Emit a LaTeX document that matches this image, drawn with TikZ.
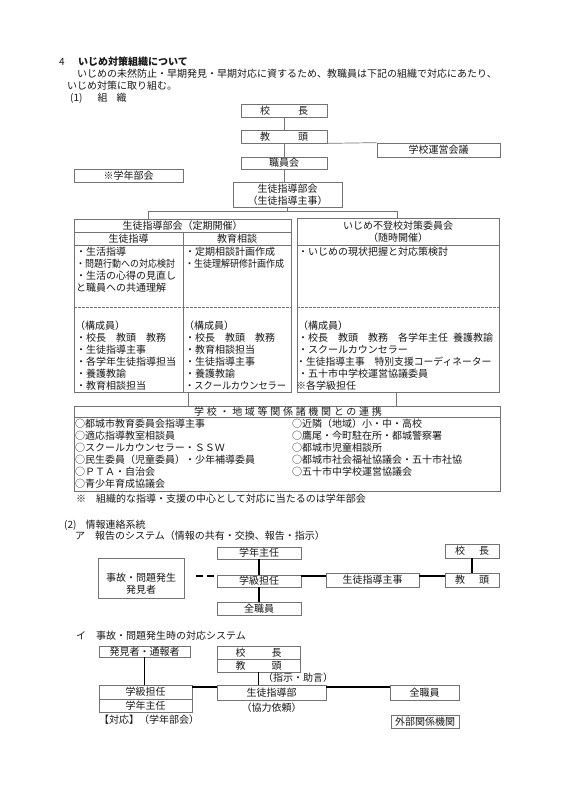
\documentclass[tikz,border=0pt]{standalone}
\usepackage{fontspec}
\setmainfont{Noto Sans CJK JP}
\newcommand\bx[6]{\node[box,minimum width={#4-#2},minimum height={#5-#3}] (#1) at ({(#2+#4)/2},{(#3+#5)/2}) {#6};}
\begin{document}
\begin{tikzpicture}[x=1pt,y=-1pt,font=\fontsize{10}{12}\selectfont,
  txt/.style={anchor=west,inner sep=0pt,text height=8.8pt,text depth=1.2pt,text=black!90},
  ctxt/.style={inner sep=0pt,text height=8.8pt,text depth=1.2pt,text=black!90},
  box/.style={draw=black!55,line width=0.7pt,inner sep=0pt,text height=8.8pt,text depth=1.2pt,text=black!90},
  conn/.style={draw=black!55,line width=0.7pt},
  rule/.style={draw=black!55,line width=0.7pt},
  dashrule/.style={draw=black!55,line width=0.6pt,dash pattern=on 2.5pt off 1.5pt},
  thk/.style={draw=black,line width=1.5pt}]
\fill[white] (0,0) rectangle (566,800);
\useasboundingbox (0,0) rectangle (566,800);

% header
\node[txt] (h4) at (59,62) {4};
\node[txt,font=\fontsize{10}{12}\selectfont\bfseries] (h4t) at (78,62) {いじめ対策組織について};
\node[txt] (hl2) at (77,74) {いじめの未然防止・早期発見・早期対応に資するため、教職員は下記の組織で対応にあたり、};
\node[txt] (hl3) at (67,86) {いじめ対策に取り組む。};
\node[txt] (hs1) at (70,97.5) {(1)\hspace{15pt}組\hspace{9pt}織};

% org chart
\bx{kocho}{241}{104}{327}{117}{校\hspace{28pt}長}
\bx{kyoto}{241}{130}{327}{143}{教\hspace{28pt}頭}
\bx{unei}{377}{143}{500}{157}{学校運営会議}
\bx{shokuin}{241}{157}{327}{169}{職員会}
\bx{gakunenbu}{74}{169}{183}{182}{※学年部会}
\bx{shidobu}{233}{182}{342}{207}{}
\node[ctxt] (sd1) at (287.5,188.5) {生徒指導部会};
\node[ctxt] (sd2) at (287.5,200.5) {（生徒指導主事）};

\draw[conn] (kocho.south) -- (kyoto.north);
\draw[conn] (kyoto.south east) -- (unei.north west);
\draw[conn] (kyoto.south) -- (shokuin.north);
\draw[conn] (shokuin.south) -- (shokuin.south |- shidobu.north);

% big boxes
\bx{bigL}{74}{219}{291}{392}{}
\bx{bigR}{297}{218}{499}{392}{}
\coordinate (jL) at (148,211);
\coordinate (jR) at (397,211);
\draw[conn] (shidobu.south) -- (shidobu.south |- jL);
\draw[conn] (bigL.north -| jL) -- (jL) -- (jR) -- (bigR.north -| jR);

% left box internals
\draw[rule] (74,232) -- (291,232);
\draw[rule] (74,245) -- (291,245);
\draw[rule] (183,232) -- (183,392);
\draw[dashrule] (74,307) -- (291,307);
\node[ctxt] (lt) at (182.5,225.5) {生徒指導部会（定期開催）};
\node[ctxt] (lh1) at (128.5,238.5) {生徒指導};
\node[ctxt] (lh2) at (237,238.5) {教育相談};
\node[txt] (la1) at (76,251.5) {・生活指導};
\node[txt] (la2) at (76,263.5) {\scalebox{0.9}[1]{・問題行動への対応検討}};
\node[txt] (la3) at (76,275.5) {・生活の心得の見直し};
\node[txt] (la4) at (76,287.5) {と職員への共通理解};
\node[txt] (lb1) at (185,251.5) {・定期相談計画作成};
\node[txt] (lb2) at (185,263.5) {\scalebox{0.9}[1]{・生徒理解研修計画作成}};
\node[txt] (lc0) at (75,326) {（構成員）};
\node[txt] (lc1) at (76,338) {・校長　教頭　教務};
\node[txt] (lc2) at (76,350) {・生徒指導主事};
\node[txt] (lc3) at (76,362) {・各学年生徒指導担当};
\node[txt] (lc4) at (76,374) {・養護教諭};
\node[txt] (lc5) at (76,386) {・教育相談担当};
\node[txt] (ld0) at (184,326) {（構成員）};
\node[txt] (ld1) at (185,338) {・校長　教頭　教務};
\node[txt] (ld2) at (185,350) {・教育相談担当};
\node[txt] (ld3) at (185,362) {・生徒指導主事};
\node[txt] (ld4) at (185,374) {・養護教諭};
\node[txt] (ld5) at (185,386) {\scalebox{0.92}[1]{・スクールカウンセラー}};

% right box internals
\draw[rule] (297,245) -- (499,245);
\draw[dashrule] (297,307) -- (499,307);
\node[ctxt] (rt1) at (398,226) {いじめ不登校対策委員会};
\node[ctxt] (rt2) at (398,237.5) {（随時開催）};
\node[txt] (ra1) at (298,251.5) {・いじめの現状把握と対応策検討};
\node[txt] (rc0) at (298,326) {（構成員）};
\node[txt] (rc1) at (298,338) {・校長　教頭　教務　各学年主任\hspace{5pt}養護教諭};
\node[txt] (rc2) at (298,350) {・スクールカウンセラー};
\node[txt] (rc3) at (296,362) {\scalebox{0.98}[1]{・生徒指導主事　特別支援コーディネーター}};
\node[txt] (rc4) at (298,374) {・五十市中学校運営協議委員};
\node[txt] (rc5) at (296,386) {※各学級担任};

% renkei box
\bx{renkei}{74}{406}{500}{491}{}
\coordinate (cL) at (188,0);
\coordinate (cR) at (396,0);
\draw[conn] (bigL.south -| cL) -- (renkei.north -| cL);
\draw[conn] (bigR.south -| cR) -- (renkei.north -| cR);
\draw[rule] (74,417) -- (500,417);
\node[ctxt] (rkt) at (288,411.5) {\addfontfeature{LetterSpace=27}学校・地域等関係諸機関との連携};
\node[txt] (rk1) at (75,424) {○都城市教育委員会指導主事};
\node[txt] (rk2) at (75,436) {○適応指導教室相談員};
\node[txt] (rk3) at (75,448) {○スクールカウンセラー・ＳＳＷ};
\node[txt] (rk4) at (75,460) {○民生委員（児童委員）・少年補導委員};
\node[txt] (rk5) at (75,472) {○ＰＴＡ・自治会};
\node[txt] (rk6) at (75,484) {○青少年育成協議会};
\node[txt] (rm1) at (292,424) {○近隣（地域）小・中・高校};
\node[txt] (rm2) at (292,436) {○鷹尾・今町駐在所・都城警察署};
\node[txt] (rm3) at (292,448) {○都城市児童相談所};
\node[txt] (rm4) at (292,460) {○都城市社会福祉協議会・五十市社協};
\node[txt] (rm5) at (292,472) {○五十市中学校運営協議会};
\node[txt] (note) at (76,499) {※　組織的な指導・支援の中心として対応に当たるのは学年部会};

% section 2 a
\node[txt] (hs2) at (64,525) {(2)\hspace{9pt}情報連絡系統};
\node[txt] (hsa) at (75,536) {ア　報告のシステム（情報の共有・交換、報告・指示）};
\bx{gakunenA}{217}{547}{301}{559}{学年主任}
\bx{gakkyuA}{217}{575}{301}{587}{学級担任}
\bx{zenA}{217}{602}{301}{615}{全職員}
\bx{jikoA}{98}{558}{184}{598}{}
\node[ctxt] (jk1) at (141,578) {事故・問題発生};
\node[ctxt] (jk2) at (141,590) {発見者};
\bx{shujiA}{326}{573}{419}{587}{生徒指導主事}
\bx{kochoA}{445}{544}{499}{558}{校\hspace{14pt}長}
\bx{kyotoA}{445}{573}{499}{587}{教\hspace{14pt}頭}
\coordinate (ya) at (0,576);
\draw[thk] (gakunenA.south) -- (gakkyuA.north);
\draw[thk] (gakkyuA.south) -- (zenA.north);
\draw[thk,dash pattern=on 7pt off 4pt,shorten <=12pt] (jikoA.east |- ya) -- (gakkyuA.west |- ya);
\draw[thk] (gakkyuA.east |- ya) -- (shujiA.west |- ya);
\draw[thk] (shujiA.east |- ya) -- (kyotoA.west |- ya);
\draw[thk] (kochoA.south) -- (kyotoA.north);

% section 2 i
\node[txt] (hsi) at (76,636) {イ　事故・問題発生時の対応システム};
\bx{hakkenB}{99}{646}{190}{657}{発見者・通報者}
\bx{ktB}{217}{646}{300}{672}{}
\draw[rule] (217,659) -- (300,659);
\node[ctxt] (kt1) at (258.5,652.5) {校\hspace{26pt}長};
\node[ctxt] (kt2) at (258.5,665.5) {教\hspace{26pt}頭};
\node[txt] (shijo) at (263,677.5) {（指示・助言）};
\bx{gkB}{99}{685}{192}{712}{}
\draw[rule] (99,699) -- (192,699);
\node[ctxt] (gk1) at (145.5,692) {学級担任};
\node[ctxt] (gk2) at (145.5,705.5) {学年主任};
\bx{sdB}{217}{685}{326}{700}{生徒指導部}
\node[ctxt] (kyoryoku) at (271.5,708) {（協力依頼）};
\bx{zenB}{390}{685}{459}{700}{全職員}
\bx{gaibuB}{391}{715}{459}{728}{外部関係機関}
\node[txt] (taio) at (99,720) {【対応】（学年部会）};
\coordinate (yb) at (0,687);
\draw[thk] (hakkenB.south) -- (hakkenB.south |- gkB.north);
\draw[thk] (ktB.south) -- (ktB.south |- sdB.north);
\draw[thk] (gkB.east |- yb) -- (sdB.west |- yb);
\draw[thk] (sdB.east |- yb) -- (zenB.west |- yb);
\end{tikzpicture}
\end{document}
